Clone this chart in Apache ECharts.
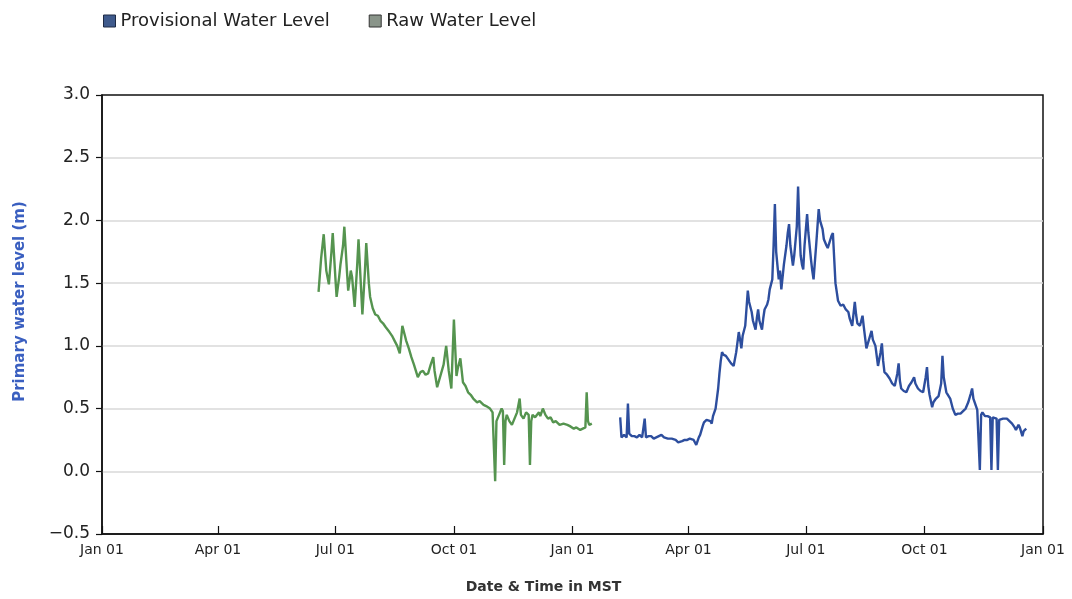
<!DOCTYPE html>
<html>
<head>
<meta charset="utf-8">
<script src="https://cdn.jsdelivr.net/npm/echarts@6/dist/echarts.min.js"></script>
<style>
html,body{margin:0;padding:0;background:#fff;}
#chart{width:1072px;height:599px;}
</style>
</head>
<body>
<div id="chart"></div>
<script>
// Days counted from the first "Jan 01" on the axis
const tickDays = [0, 90, 181, 273, 365, 455, 546, 638, 730];
const tickLabels = ['Jan 01', 'Apr 01', 'Jul 01', 'Oct 01', 'Jan 01', 'Apr 01', 'Jul 01', 'Oct 01', 'Jan 01'];
const yTicks = [-0.5, 0.0, 0.5, 1.0, 1.5, 2.0, 2.5, 3.0];

const rawDay = [168, 170, 172, 174, 176, 178, 179, 181, 182, 184, 185, 187, 188, 190, 191, 193, 194, 196, 198, 199, 201, 202, 204, 205, 207, 208, 210, 212, 214, 216, 218, 220, 221, 223, 225, 227, 229, 231, 233, 235, 236, 238, 240, 242, 245, 247, 249, 251, 253, 255, 257, 258, 260, 265, 267, 269, 271, 273, 275, 276, 278, 280, 282, 284, 286, 288, 291, 293, 296, 298, 301, 303, 304, 305, 306, 308, 310, 311, 312, 313, 314, 316, 318, 320, 322, 324, 325, 327, 329, 331, 332, 333, 334, 336, 339, 340, 342, 344, 346, 348, 350, 352, 355, 358, 361, 363, 366, 368, 371, 373, 375, 376, 377, 378, 380];
const rawLevel = [1.43, 1.70, 1.89, 1.60, 1.49, 1.75, 1.90, 1.55, 1.39, 1.55, 1.65, 1.80, 1.95, 1.60, 1.44, 1.60, 1.55, 1.31, 1.65, 1.85, 1.45, 1.25, 1.60, 1.82, 1.50, 1.39, 1.30, 1.25, 1.24, 1.20, 1.18, 1.15, 1.16, 1.11, 1.08, 1.04, 1.00, 0.94, 1.16, 1.08, 1.04, 0.98, 0.91, 0.85, 0.75, 0.79, 0.80, 0.77, 0.78, 0.85, 0.91, 0.80, 0.67, 0.85, 1.00, 0.80, 0.66, 1.21, 0.76, 0.82, 0.90, 0.71, 0.68, 0.63, 0.61, 0.58, 0.55, 0.56, 0.53, 0.52, 0.50, 0.47, 0.48, -0.08, 0.40, 0.45, 0.50, 0.48, 0.05, 0.40, 0.45, 0.40, 0.37, 0.42, 0.47, 0.58, 0.45, 0.42, 0.47, 0.45, 0.05, 0.40, 0.45, 0.43, 0.47, 0.44, 0.50, 0.45, 0.42, 0.43, 0.39, 0.40, 0.37, 0.38, 0.37, 0.36, 0.34, 0.35, 0.33, 0.34, 0.35, 0.63, 0.40, 0.37, 0.38];

const provDay = [402, 403, 405, 407, 408, 409, 411, 413, 415, 417, 419, 421, 422, 424, 426, 428, 430, 432, 434, 436, 439, 442, 445, 447, 448, 450, 452, 454, 456, 459, 461, 463, 464, 466, 467, 469, 470, 472, 473, 474, 476, 477, 478, 479, 480, 481, 482, 484, 486, 488, 490, 492, 494, 495, 496, 497, 499, 500, 501, 502, 504, 505, 507, 508, 509, 510, 512, 513, 514, 516, 517, 518, 520, 521, 522, 523, 525, 526, 527, 529, 531, 532, 533, 534, 536, 537, 539, 540, 541, 542, 543, 544, 545, 547, 548, 550, 551, 552, 554, 556, 557, 559, 560, 562, 563, 564, 566, 567, 568, 569, 570, 571, 573, 575, 577, 579, 580, 582, 584, 585, 586, 588, 590, 591, 593, 595, 597, 598, 600, 602, 604, 605, 606, 607, 609, 611, 613, 615, 617, 618, 619, 620, 622, 624, 626, 628, 630, 631, 633, 635, 637, 639, 640, 641, 642, 644, 645, 647, 649, 650, 651, 652, 653, 655, 656, 658, 660, 662, 664, 666, 668, 670, 672, 674, 675, 676, 677, 679, 680, 681, 682, 683, 685, 686, 687, 689, 690, 691, 692, 694, 695, 696, 697, 699, 702, 704, 706, 708, 709, 711, 712, 714, 715, 717];
const provLevel = [0.43, 0.27, 0.29, 0.27, 0.54, 0.30, 0.28, 0.28, 0.27, 0.29, 0.27, 0.42, 0.27, 0.28, 0.28, 0.26, 0.27, 0.28, 0.29, 0.27, 0.26, 0.26, 0.25, 0.23, 0.22, 0.24, 0.25, 0.25, 0.26, 0.25, 0.21, 0.27, 0.29, 0.36, 0.39, 0.41, 0.42, 0.40, 0.38, 0.44, 0.50, 0.58, 0.66, 0.78, 0.88, 0.95, 0.93, 0.92, 0.89, 0.86, 0.84, 0.95, 1.11, 1.05, 0.98, 1.08, 1.16, 1.30, 1.44, 1.35, 1.27, 1.20, 1.13, 1.22, 1.29, 1.20, 1.13, 1.22, 1.29, 1.33, 1.37, 1.45, 1.53, 1.80, 2.13, 1.75, 1.53, 1.60, 1.45, 1.65, 1.80, 1.90, 1.97, 1.80, 1.64, 1.72, 1.95, 2.27, 1.95, 1.72, 1.65, 1.61, 1.80, 2.05, 1.90, 1.69, 1.60, 1.53, 1.80, 2.09, 2.00, 1.93, 1.85, 1.80, 1.78, 1.77, 1.88, 1.90, 1.70, 1.50, 1.43, 1.36, 1.32, 1.33, 1.29, 1.27, 1.22, 1.16, 1.35, 1.25, 1.18, 1.16, 1.24, 1.15, 0.98, 1.05, 1.12, 1.05, 1.00, 0.84, 0.95, 1.02, 0.88, 0.79, 0.77, 0.74, 0.70, 0.68, 0.78, 0.86, 0.72, 0.66, 0.64, 0.63, 0.68, 0.71, 0.75, 0.70, 0.66, 0.64, 0.63, 0.75, 0.83, 0.68, 0.61, 0.51, 0.55, 0.58, 0.60, 0.61, 0.70, 0.92, 0.75, 0.63, 0.62, 0.58, 0.50, 0.45, 0.46, 0.46, 0.48, 0.50, 0.55, 0.62, 0.66, 0.58, 0.55, 0.49, 0.48, 0.01, 0.45, 0.47, 0.44, 0.45, 0.44, 0.43, 0.01, 0.43, 0.43, 0.42, 0.01, 0.41, 0.41, 0.42, 0.42, 0.40, 0.38, 0.35, 0.33, 0.37, 0.35, 0.28, 0.32, 0.34];

const zip = (xs, ys) => xs.map((x, i) => [x, ys[i]]);

const chart = echarts.init(document.getElementById('chart'), null, {renderer: 'canvas'});
const font = 'DejaVu Sans, Liberation Sans, Arial, sans-serif';
chart.setOption({
  backgroundColor: '#ffffff',
  animation: false,
  textStyle: {fontFamily: font},
  legend: {
    left: 98,
    top: 7,
    icon: 'rect',
    itemWidth: 12,
    itemHeight: 12,
    itemGap: 39,
    textStyle: {fontSize: 18, color: '#222', fontFamily: font},
    data: [
      {name: 'Provisional Water Level', itemStyle: {color: '#3f5a8c', borderColor: '#1e2a44', borderWidth: 1}},
      {name: 'Raw Water Level', itemStyle: {color: '#8a958a', borderColor: '#333', borderWidth: 1}}
    ]
  },
  grid: {
    left: 102, right: 29, top: 95, bottom: 63,
    show: true, borderColor: '#111', borderWidth: 1.5, backgroundColor: 'transparent'
  },
  xAxis: {
    type: 'value',
    min: tickDays[0],
    max: tickDays[tickDays.length - 1],
    name: 'Date & Time in MST',
    nameLocation: 'middle',
    nameGap: 46,
    nameTextStyle: {fontSize: 14, fontWeight: 'bold', color: '#333', fontFamily: font, padding: [0, 58, 0, 0]},
    axisLine: {show: true, onZero: false, lineStyle: {color: '#111', width: 1.5}},
    axisTick: {show: true, inside: true, length: 8, customValues: tickDays, lineStyle: {color: '#111', width: 1.2}},
    axisLabel: {
      customValues: tickDays,
      margin: 9,
      fontSize: 14,
      color: '#222',
      fontFamily: font,
      formatter: function (v) { const i = tickDays.indexOf(v); return i >= 0 ? tickLabels[i] : ''; }
    },
    splitLine: {show: false}
  },
  yAxis: {
    type: 'value',
    min: yTicks[0],
    max: yTicks[yTicks.length - 1],
    interval: 0.5,
    name: 'Primary water level (m)',
    nameLocation: 'middle',
    nameGap: 74,
    nameTextStyle: {fontSize: 15, fontWeight: 'bold', color: '#3a5fc0', fontFamily: font, padding: [0, 0, 0, 26]},
    axisLine: {show: true, onZero: false, lineStyle: {color: '#111', width: 1.5}},
    axisTick: {show: true, inside: false, length: 6, lineStyle: {color: '#111', width: 1.2}},
    axisLabel: {
      margin: 12,
      fontSize: 17,
      color: '#222',
      fontFamily: font,
      formatter: function (v) { return (v < 0 ? '\u2212' : '') + Math.abs(v).toFixed(1); }
    },
    splitLine: {show: true, showMinLine: false, showMaxLine: false, lineStyle: {color: '#d8d8d8', width: 1.5}}
  },
  series: [
    {
      name: 'Raw Water Level',
      type: 'line',
      data: zip(rawDay, rawLevel),
      showSymbol: false,
      symbol: 'none',
      lineStyle: {color: '#55944f', width: 2.4},
      itemStyle: {color: '#55944f'}
    },
    {
      name: 'Provisional Water Level',
      type: 'line',
      data: zip(provDay, provLevel),
      showSymbol: false,
      symbol: 'none',
      lineStyle: {color: '#2d4e9e', width: 2.4},
      itemStyle: {color: '#2d4e9e'}
    }
  ]
});
</script>
</body>
</html>
